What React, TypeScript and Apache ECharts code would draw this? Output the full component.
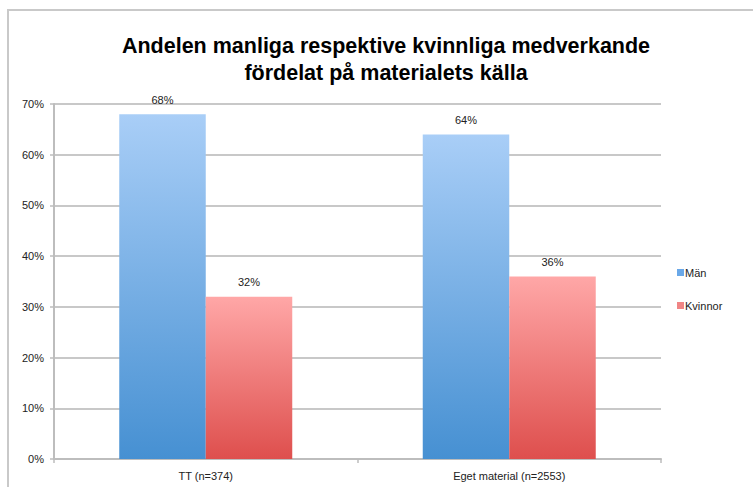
import React, { useEffect, useRef } from "react";
import * as echarts from "echarts";

const titleText = "Andelen manliga respektive kvinnliga medverkande\nfördelat på materialets källa";
const categories = ["TT (n=374)", "Eget material (n=2553)"];
const seriesNames = ["Män", "Kvinnor"];
const manValues = [68, 64];
const kvinnorValues = [32, 36];
const yTicks = [0, 10, 20, 30, 40, 50, 60, 70];

const FONT = "'Liberation Sans', Arial, sans-serif";

export default function App() {
  const ref = useRef<HTMLDivElement>(null);
  useEffect(() => {
    if (!ref.current) return;
    const chart = echarts.init(ref.current, undefined, { renderer: "svg" });
    const manGrad = new echarts.graphic.LinearGradient(0, 0, 0, 1, [
      { offset: 0, color: "#a9cef7" },
      { offset: 1, color: "#4690d2" },
    ]);
    const kvGrad = new echarts.graphic.LinearGradient(0, 0, 0, 1, [
      { offset: 0, color: "#ffa7a7" },
      { offset: 1, color: "#de4f4d" },
    ]);
    const labelCfg = {
      show: true,
      position: "top" as const,
      distance: 9,
      color: "#222",
      fontSize: 11,
      fontFamily: FONT,
      formatter: (p: any) => p.value + "%",
    };
    chart.setOption({
      animation: false,
      backgroundColor: "#ffffff",
      textStyle: { fontFamily: FONT },
      title: {
        text: titleText,
        left: 381,
        textAlign: "center",
        top: 27,
        textStyle: {
          fontSize: 21.5,
          fontWeight: "bold",
          color: "#000",
          lineHeight: 27,
          fontFamily: FONT,
        },
      },
      graphic: [
        {
          type: "rect",
          shape: { x: 8, y: 10, width: 760, height: 500 },
          style: { fill: "none", stroke: "#c9c9c9", lineWidth: 2 },
          silent: true,
          z: -10,
        },
      ],
      legend: {
        orient: "vertical",
        left: 672,
        top: 262,
        itemWidth: 7,
        itemHeight: 7,
        itemGap: 22,
        icon: "rect",
        data: [
          { name: seriesNames[0], itemStyle: { color: "#6aa8e8" } },
          { name: seriesNames[1], itemStyle: { color: "#f08585" } },
        ],
        textStyle: { fontSize: 11, color: "#222", fontFamily: FONT, padding: [0, 0, 0, -4] },
      },
      grid: { left: 54, right: 92, top: 104, bottom: 28, containLabel: false },
      xAxis: {
        type: "category",
        data: categories,
        axisLine: { lineStyle: { color: "#bdbdbd", width: 2 } },
        axisTick: { show: true, length: 4, lineStyle: { color: "#bdbdbd", width: 1.5 } },
        axisLabel: { color: "#222", fontSize: 11, margin: 11, fontFamily: FONT },
      },
      yAxis: {
        type: "value",
        min: 0,
        max: 70,
        interval: 10,
        axisLine: { show: true, lineStyle: { color: "#bdbdbd", width: 2 } },
        axisTick: { show: true, length: 4, lineStyle: { color: "#bdbdbd", width: 1.5 } },
        splitLine: { lineStyle: { color: "#c8c8c8", width: 2 } },
        axisLabel: {
          color: "#222",
          fontSize: 11,
          margin: 10,
          fontFamily: FONT,
          formatter: (v: number) => (yTicks.includes(v) ? v + "%" : ""),
        },
      },
      series: [
        {
          name: seriesNames[0],
          type: "bar",
          data: manValues,
          barGap: "0%",
          barCategoryGap: "43%",
          itemStyle: { color: manGrad },
          label: labelCfg,
        },
        {
          name: seriesNames[1],
          type: "bar",
          data: kvinnorValues,
          barGap: "0%",
          barCategoryGap: "43%",
          itemStyle: { color: kvGrad },
          label: labelCfg,
        },
      ],
    });
    return () => chart.dispose();
  }, []);
  return (
    <div
      ref={ref}
      style={{ position: "absolute", left: 0, top: 0, width: 753, height: 487 }}
    />
  );
}
